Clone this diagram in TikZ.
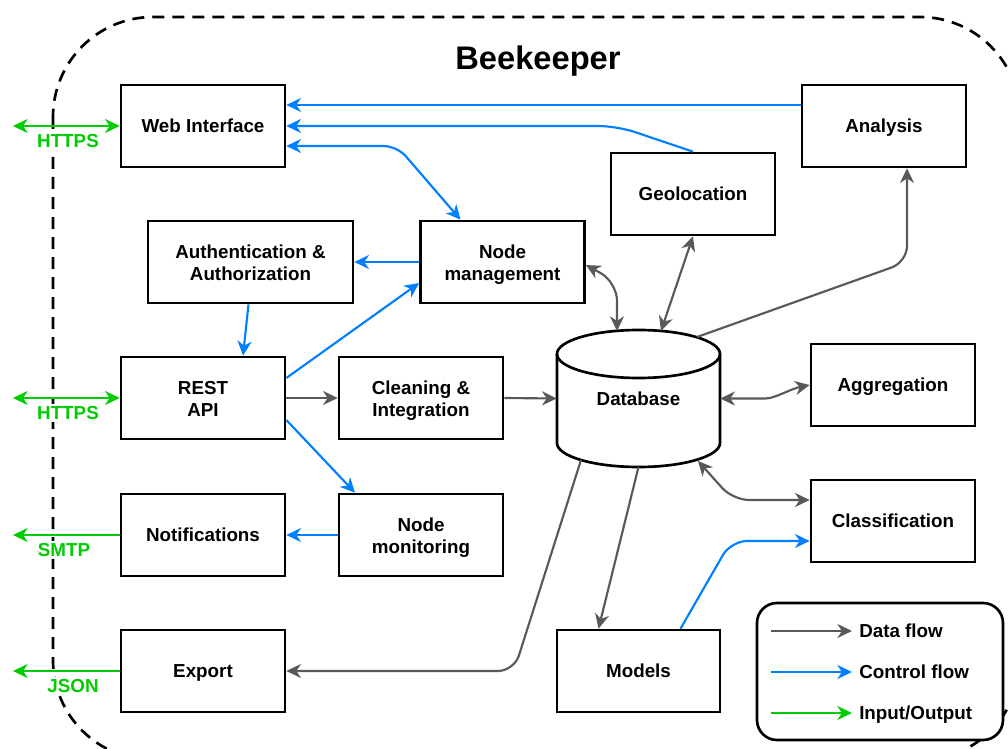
\documentclass[tikz,border=0pt]{standalone}
\usepackage{fontspec}
\setmainfont{Liberation Sans}
\usetikzlibrary{arrows.meta,calc}
\definecolor{ctrlblue}{HTML}{007FFF}
\definecolor{datagray}{HTML}{595959}
\definecolor{iogreen}{HTML}{00CC00}
\newcommand{\bkfont}{\fontsize{14.1}{16.5}\selectfont\bfseries}
\newcommand{\bktitlefont}{\fontsize{24.5}{28}\selectfont\bfseries}
\tikzset{
  box/.style={draw=black, line width=2pt, fill=white, minimum width=123pt,
    minimum height=61.5pt, align=center, inner sep=0pt, font=\bkfont,
    text height=12.4pt, text depth=2pt},
  boxtwo/.style={box, text height=30.1pt, text depth=2pt},
  flow/.style={line width=1.6pt, rounded corners=10pt},
  tipA/.tip={Stealth[length=11pt, width=10.5pt, inset=3.5pt]},
  data/.style={flow, draw=datagray, -tipA},
  databoth/.style={flow, draw=datagray, tipA-tipA},
  ctrl/.style={flow, draw=ctrlblue, -tipA},
  ctrlboth/.style={flow, draw=ctrlblue, tipA-tipA},
  io/.style={flow, draw=iogreen, -tipA},
  ioboth/.style={flow, draw=iogreen, tipA-tipA},
  iolabel/.style={text=iogreen, font=\bkfont, fill=white, inner sep=1pt, text height=10.5pt, text depth=0.5pt},
  legendtext/.style={anchor=west, font=\bkfont, inner sep=0pt, text height=12pt, text depth=2pt},
  boundary/.style={draw=black, line width=2pt, dash pattern=on 9pt off 6pt, rounded corners=75pt},
}
\begin{document}
\begin{tikzpicture}[x=0.75pt, y=-0.75pt]
\useasboundingbox (0,0) rectangle (1008,749);
\clip (0,0) rectangle (1008,749);
\fill[white] (0,0) rectangle (1008,749);

% outer boundary
\draw[boundary] (53,17) rectangle (1020,760);
\node[font=\bktitlefont, text height=18pt, text depth=0pt, inner sep=0pt] (title) at (538,58) {Beekeeper};

% boxes
\node[box] (web) at (203,126) {Web Interface};
\node[box] (analysis) at (884,126) {Analysis};
\node[box] (geo) at (693,194) {Geolocation};
\node[boxtwo, minimum width=153.75pt] (auth) at (250.5,262) {Authentication \&\\Authorization};
\node[boxtwo] (nm) at (502.5,262) {Node\\management};
\node[boxtwo] (rest) at (203,398) {REST\\API};
\node[boxtwo] (clean) at (421,398) {Cleaning \&\\Integration};
\node[box] (agg) at (893,385) {Aggregation};
\node[box] (cls) at (893,521) {Classification};
\node[box] (notif) at (203,535) {Notifications};
\node[boxtwo] (nmon) at (421,535) {Node\\monitoring};
\node[box] (export) at (203,671) {Export};
\node[box, minimum width=122.25pt] (models) at (638.5,671) {Models};

% database cylinder
\node[minimum width=122.25pt, minimum height=102.75pt, inner sep=0pt] (db) at (638.5,398.5) {};
\draw[line width=2pt, fill=white]
  (557,354) -- (557,443)
  .. controls (557,456.25) and (593.5,467) .. (638.5,467)
  .. controls (683.5,467) and (720,456.25) .. (720,443)
  -- (720,354)
  .. controls (720,340.75) and (683.5,330) .. (638.5,330)
  .. controls (593.5,330) and (557,340.75) .. (557,354) -- cycle;
\draw[line width=2pt]
  (557,354) .. controls (557,367.25) and (593.5,378) .. (638.5,378)
  .. controls (683.5,378) and (720,367.25) .. (720,354);
\node[font=\bkfont, inner sep=0pt, text height=12.4pt, text depth=2pt] (dblabel) at (638.5,399) {Database};
\coordinate (dbA) at (617,331);
\coordinate (dbB) at (661,331);
\coordinate (dbC) at (697,337);
\coordinate (dbD) at (698,461);
\coordinate (dbE) at (581,460);
\coordinate (dbF) at (638.5,467);

% control flow (blue)
\draw[ctrl] ($(analysis.west)+(0,-21)$) -- ($(web.east)+(0,-21)$);
\draw[ctrl, rounded corners=14pt] (geo.north) -- (617,126) -- (web.east);
\draw[ctrlboth] ($(web.east)+(0,20)$) -- (397,146) -- ($(nm.north)+(-42,0)$);
\draw[ctrl] (nm.west) -- (auth.east);
\draw[ctrl] ($(auth.south)+(-2,0)$) -- ($(rest.north)+(40,0)$);
\draw[ctrl] ($(rest.east)+(0,-20)$) -- ($(nm.west)+(0,21)$);
\draw[ctrl] ($(rest.east)+(0,22)$) -- ($(nmon.north)+(-66,0)$);
\draw[ctrl] (nmon.west) -- (notif.east);
\draw[ctrl, rounded corners=12pt] ($(models.north)+(42,0)$) -- (731,541) -- ($(cls.west)+(0,20)$);

% data flow (gray)
\draw[data] (rest.east) -- (clean.west);
\draw[data] (clean.east) -- (db.west);
\draw[databoth, rounded corners=14pt] ($(nm.east)+(0,3)$) -- (617,282) -- (dbA);
\draw[databoth] (geo.south) -- (dbB);
\draw[data, rounded corners=12pt] (dbC) -- (907,262) -- ($(analysis.south)+(23,0)$);
\draw[databoth] (db.east) -- (752,398.5) .. controls (775,398.5) and (790,389) .. (agg.west);
\draw[databoth, rounded corners=12pt] (dbD) -- (733,500) -- ($(cls.west)+(0,-21)$);
\draw[data, rounded corners=12pt] (dbE) -- (514,671) -- (export.east);
\draw[data] (dbF) -- ($(models.north)+(-40,0)$);

% input/output (green)
\coordinate (ioA) at (13,126);
\coordinate (ioB) at (13,398);
\coordinate (ioC) at (13,535);
\coordinate (ioD) at (13,671);
\draw[ioboth] (web.west) -- (ioA);
\draw[ioboth] (rest.west) -- (ioB);
\draw[io] (notif.west) -- (ioC);
\draw[io] (export.west) -- (ioD);
\node[iolabel] (lblA) at (68,141) {HTTPS};
\node[iolabel] (lblB) at (68,413) {HTTPS};
\node[iolabel] (lblC) at (64,550) {SMTP};
\node[iolabel] (lblD) at (73,686) {JSON};

% legend
\node[draw=black, line width=2pt, fill=white, rounded corners=15pt,
  minimum width=184.5pt, minimum height=102.75pt] (legend) at (880,671.5) {};
\coordinate (l1a) at (771,631); \coordinate (l1b) at (852,631);
\coordinate (l2a) at (771,672); \coordinate (l2b) at (852,672);
\coordinate (l3a) at (771,713); \coordinate (l3b) at (852,713);
\draw[data] (l1a) -- (l1b);
\draw[ctrl] (l2a) -- (l2b);
\draw[io] (l3a) -- (l3b);
\node[legendtext] (t1) at (859,631) {Data flow};
\node[legendtext] (t2) at (859,672) {Control flow};
\node[legendtext] (t3) at (859,713) {Input/Output};
\end{tikzpicture}
\end{document}
